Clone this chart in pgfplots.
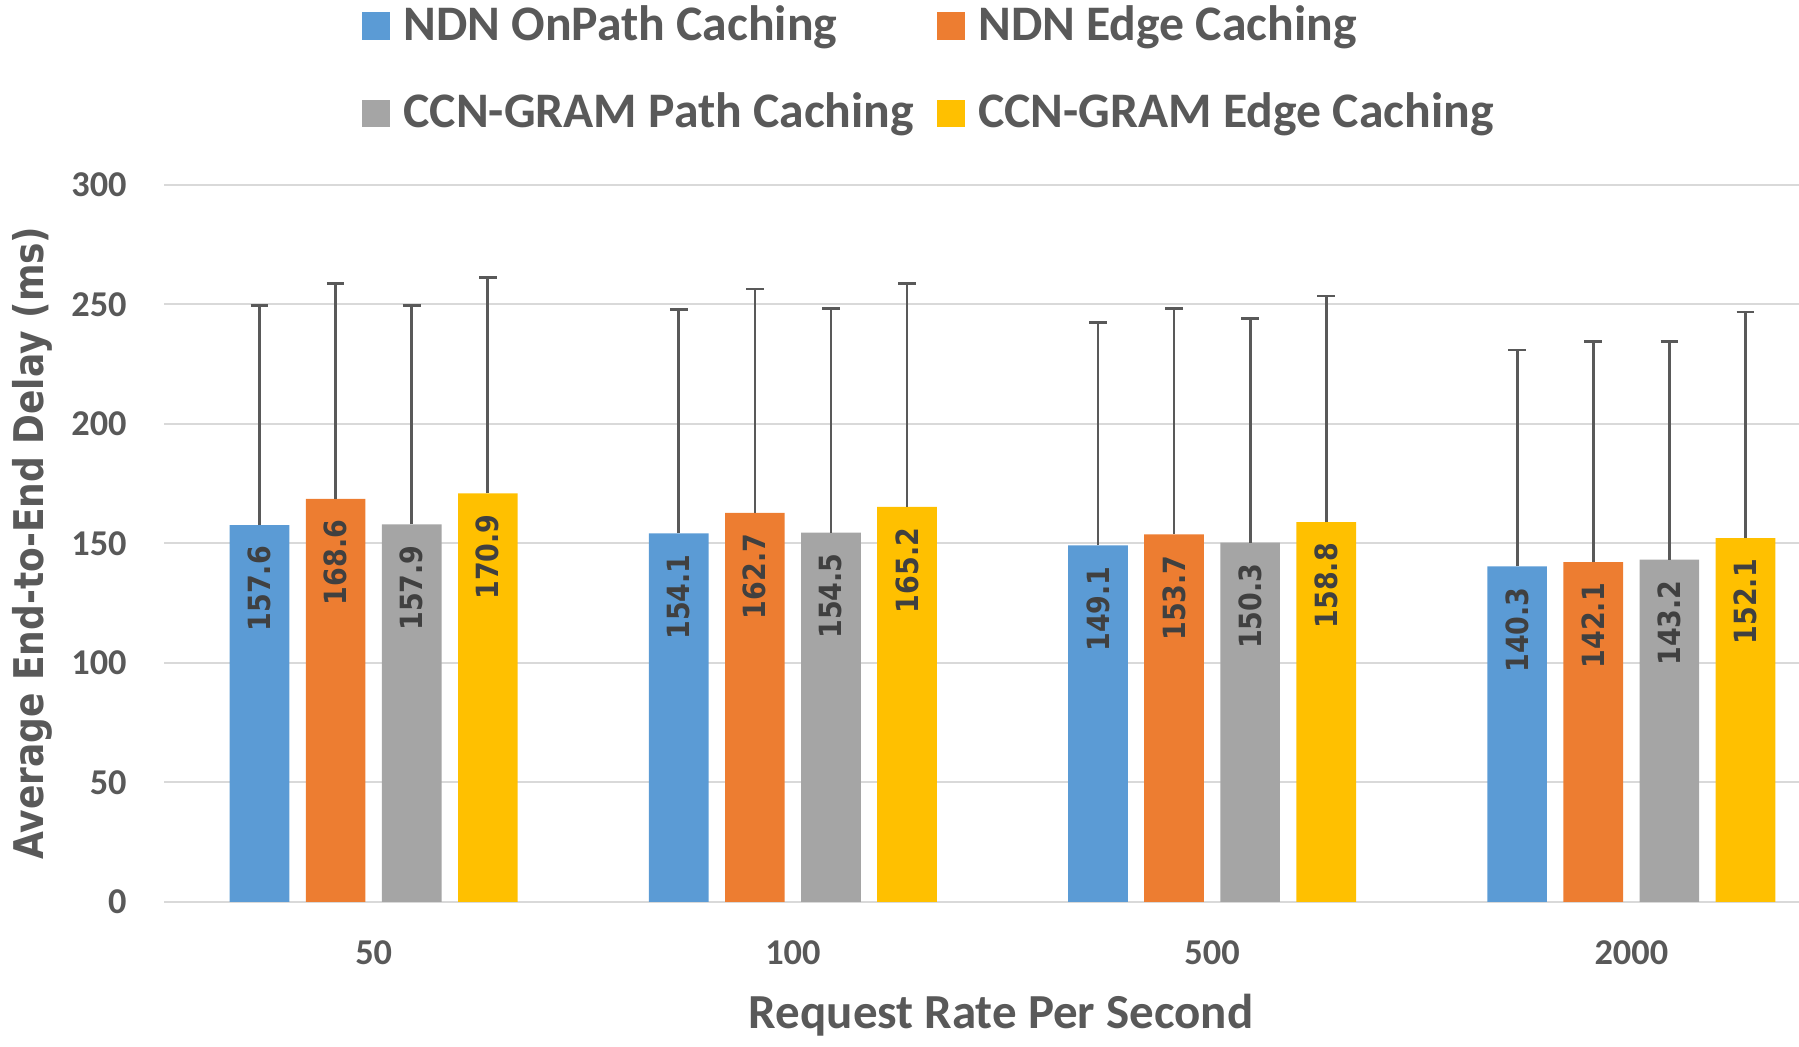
\documentclass[border=0pt]{standalone}
\usepackage{pgfplots}
\pgfplotsset{compat=1.18}
\usepackage{fontspec}
\usepackage{graphicx}
\setmainfont{Carlito}
\newfontfamily\dejavu{DejaVu Sans}
\definecolor{c1}{HTML}{5B9BD5}
\definecolor{c2}{HTML}{ED7D31}
\definecolor{c3}{HTML}{A5A5A5}
\definecolor{c4}{HTML}{FFC000}
\definecolor{tcol}{HTML}{595959}
\definecolor{lcol}{HTML}{404040}
\definecolor{ecol}{HTML}{595959}
\definecolor{gridc}{HTML}{D9D9D9}

% x: 0=50, 1=100, 2=500, 3=2000 requests/s; e = upper error
\pgfplotstableread{
x y e
0 157.6 92.0
1 154.1 93.6
2 149.1 93.3
3 140.3 90.6
}\ndnpath
\pgfplotstableread{
x y e
0 168.6 90.2
1 162.7 93.7
2 153.7 94.5
3 142.1 92.2
}\ndnedge
\pgfplotstableread{
x y e
0 157.9 91.7
1 154.5 93.7
2 150.3 93.6
3 143.2 91.1
}\gramPath
\pgfplotstableread{
x y e
0 170.9 90.3
1 165.2 93.6
2 158.8 94.7
3 152.1 94.7
}\gramEdge

\newcommand\barlabel{{\dejavu\bfseries\fontsize{8}{9}\selectfont\scalebox{0.88}[1]{\pgfmathprintnumber[fixed,precision=1,fixed zerofill,assume math mode=true]{\pgfplotspointmeta}}}}

\begin{document}
\begin{tikzpicture}
\begin{axis}[name=ax, scale only axis, width=427.5pt, height=187.5pt,
  ybar=4.3pt, bar width=15.6pt,
  xmin=-0.5, xmax=3.4, ymin=0, ymax=300,
  xtick={0,1,2,3}, xticklabels={50,100,500,2000},
  ytick={0,50,...,300},
  ymajorgrids, grid style={draw=gridc, line width=0.6pt},
  axis line style={draw=none},
  major tick length=0pt,
  /pgf/number format/assume math mode=true,
  tick label style={font=\bfseries\fontsize{9.5}{11}\selectfont, text=tcol, inner sep=0pt},
  yticklabel style={xshift=-9.6pt},
  xticklabel style={yshift=-9.9pt},
  xlabel={Request Rate Per Second},
  xlabel style={font=\bfseries\fontsize{12.8}{15}\selectfont, text=tcol,
    at={(axis description cs:0.512,-0.158)}, anchor=center},
  ylabel={\scalebox{0.88}[1]{Average End-to-End Delay (ms)}},
  ylabel style={font=\dejavu\bfseries\fontsize{10.7}{12}\selectfont, text=tcol,
    at={(axis description cs:-0.0807,0.5)}, anchor=center},
  legend columns=2, legend cell align=left,
  legend style={draw=none, fill=none, inner sep=0pt,
    at={(axis description cs:0,1)}, anchor=north west, xshift=51.6pt, yshift=47pt,
    font=\bfseries\fontsize{13}{15}\selectfont, text=tcol,
    nodes={inner sep=0pt}, row sep=12.2pt,
    /tikz/every odd column/.append style={column sep=3.6pt},
    /tikz/every even column/.append style={column sep=6pt}},
  legend image code/.code={\draw[#1,draw=none] (0pt,-3.6pt) rectangle (7.2pt,3.6pt);},
  nodes near coords={\barlabel},
  nodes near coords style={text=lcol, rotate=90, anchor=east, inner sep=0pt, outer xsep=5.5pt},
  error bars/y dir=plus, error bars/y explicit,
  error bars/error mark=-,
  error bars/error bar style={draw=ecol, line width=0.7pt},
  error bars/error mark options={rotate=90, draw=ecol, line width=0.7pt, mark size=2.3pt},
]
\addplot[fill=c1, draw=none] table[x=x, y=y, y error=e] {\ndnpath};
\addplot[fill=c2, draw=none] table[x=x, y=y, y error=e] {\ndnedge};
\addplot[fill=c3, draw=none] table[x=x, y=y, y error=e] {\gramPath};
\addplot[fill=c4, draw=none] table[x=x, y=y, y error=e] {\gramEdge};
\legend{NDN OnPath Caching, NDN Edge Caching, CCN-GRAM Path Caching, CCN-GRAM Edge Caching}
\end{axis}
\pgfresetboundingbox
\path[use as bounding box] ([xshift=-42.9pt, yshift=-37.8pt]ax.south west) rectangle ([yshift=48.3pt]ax.north east);
\end{tikzpicture}
\end{document}
